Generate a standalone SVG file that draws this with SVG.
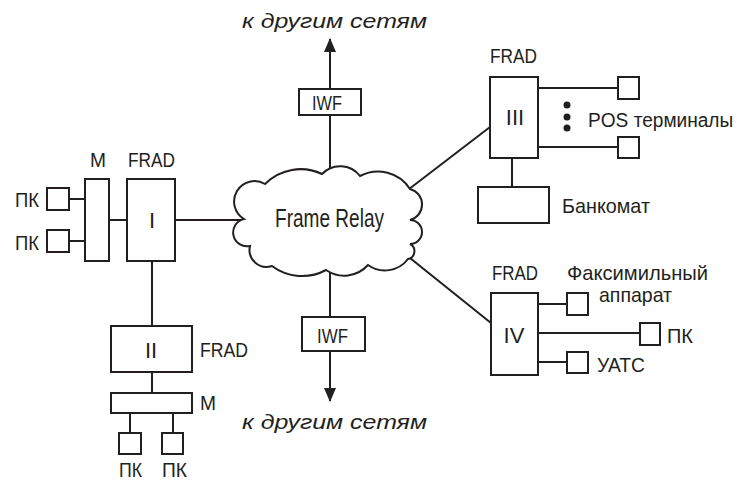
<svg xmlns="http://www.w3.org/2000/svg" width="737" height="481" viewBox="0 0 737 481">
  <defs>
    <style>
      .ln { stroke: #231f20; stroke-width: 2; fill: none; }
      .bx { stroke: #231f20; stroke-width: 2; fill: #ffffff; }
      .t { font-family: "Liberation Sans", Arial, sans-serif; font-size: 21px; fill: #231f20; }
      .num { font-family: "Liberation Sans", Arial, sans-serif; font-size: 22px; fill: #231f20; text-anchor: middle; }
      .it { font-family: "Liberation Sans", Arial, sans-serif; font-size: 21px; font-style: italic; fill: #231f20; }
      .big { font-family: "Liberation Sans", Arial, sans-serif; font-size: 25px; fill: #231f20; }
    </style>
    <marker id="arrow" viewBox="0 0 14 12" refX="13" refY="6" markerWidth="14" markerHeight="12" markerUnits="userSpaceOnUse" orient="auto">
      <path d="M0,0 L14,6 L0,12 Z" fill="#231f20"/>
    </marker>
  </defs>
  <rect width="737" height="481" fill="#ffffff"/>

  <!-- connectors -->
  <g id="connectors">
    <!-- up/down exits through IWF -->
    <line class="ln" x1="330" y1="89" x2="330" y2="39" marker-end="url(#arrow)"/>
    <line class="ln" x1="330" y1="180" x2="330" y2="115"/>
    <line class="ln" x1="330" y1="265" x2="330" y2="317"/>
    <line class="ln" x1="330" y1="351" x2="330" y2="401" marker-end="url(#arrow)"/>
    <!-- cloud to FRAD I / III / IV -->
    <line class="ln" x1="175" y1="220" x2="255" y2="220"/>
    <line class="ln" x1="400" y1="196" x2="490" y2="127"/>
    <line class="ln" x1="400" y1="250" x2="491" y2="323"/>
    <!-- left cluster -->
    <line class="ln" x1="69" y1="199" x2="85" y2="199"/>
    <line class="ln" x1="69" y1="241" x2="85" y2="241"/>
    <line class="ln" x1="109" y1="220" x2="127" y2="220"/>
    <line class="ln" x1="152" y1="261" x2="152" y2="326"/>
    <line class="ln" x1="152" y1="372" x2="152" y2="393"/>
    <line class="ln" x1="130" y1="413" x2="130" y2="433"/>
    <line class="ln" x1="173" y1="413" x2="173" y2="433"/>
    <!-- FRAD III -->
    <line class="ln" x1="538" y1="88" x2="618" y2="88"/>
    <line class="ln" x1="538" y1="147" x2="618" y2="147"/>
    <line class="ln" x1="512" y1="158" x2="512" y2="187"/>
    <!-- FRAD IV -->
    <line class="ln" x1="538" y1="304" x2="567" y2="304"/>
    <line class="ln" x1="538" y1="333" x2="640" y2="333"/>
    <line class="ln" x1="538" y1="362" x2="567" y2="362"/>
  </g>

  <!-- Frame Relay cloud -->
  <g id="cloud">
    <path class="bx" d="M244,219 A20,20 0 0 1 265,184 A50,50 0 0 1 322,174 A25,25 0 0 1 360,176 A38,38 0 0 1 410,189 A16,16 0 0 1 410,220 A12,12 0 0 1 410,244 A8,8 0 0 1 408,259 A29,29 0 0 1 368,265 A32,32 0 0 1 326,270 A50,50 0 0 1 272,266 A17,17 0 0 1 250,246 A13,13 0 0 1 244,219 Z"/>
    <text class="big" x="275" y="227" textLength="109" lengthAdjust="spacingAndGlyphs">Frame Relay</text>
  </g>

  <g id="net-top">
    <text class="it" x="242" y="28" textLength="185" lengthAdjust="spacingAndGlyphs">к другим сетям</text>
  </g>
  <g id="iwf-top">
    <rect class="bx" x="299" y="89" width="62" height="26"/>
    <text class="t" x="312" y="110" textLength="30" lengthAdjust="spacingAndGlyphs">IWF</text>
  </g>
  <g id="iwf-bottom">
    <rect class="bx" x="302" y="317" width="63" height="34"/>
    <text class="t" x="317" y="343" textLength="31" lengthAdjust="spacingAndGlyphs">IWF</text>
  </g>
  <g id="net-bottom">
    <text class="it" x="242" y="429" textLength="185" lengthAdjust="spacingAndGlyphs">к другим сетям</text>
  </g>

  <!-- left: PCs, modem, FRAD I -->
  <g id="pc-l1">
    <rect class="bx" x="47" y="188" width="22" height="22"/>
    <text class="t" x="15" y="207" textLength="24" lengthAdjust="spacingAndGlyphs">ПК</text>
  </g>
  <g id="pc-l2">
    <rect class="bx" x="47" y="230" width="22" height="22"/>
    <text class="t" x="15" y="250" textLength="24" lengthAdjust="spacingAndGlyphs">ПК</text>
  </g>
  <g id="modem-1">
    <rect class="bx" x="85" y="179" width="24" height="82"/>
    <text class="t" x="90" y="167" textLength="16" lengthAdjust="spacingAndGlyphs">M</text>
  </g>
  <g id="frad-1">
    <rect class="bx" x="127" y="179" width="48" height="82"/>
    <text class="t" x="128" y="167" textLength="47" lengthAdjust="spacingAndGlyphs">FRAD</text>
    <text class="num" x="152" y="228">I</text>
  </g>

  <!-- FRAD II with modem and PCs -->
  <g id="frad-2">
    <rect class="bx" x="111" y="326" width="81" height="46"/>
    <text class="num" x="151" y="358">II</text>
    <text class="t" x="200" y="357" textLength="48" lengthAdjust="spacingAndGlyphs">FRAD</text>
  </g>
  <g id="modem-2">
    <rect class="bx" x="111" y="393" width="81" height="20"/>
    <text class="t" x="200" y="410" textLength="16" lengthAdjust="spacingAndGlyphs">M</text>
  </g>
  <g id="pc-b1">
    <rect class="bx" x="119" y="433" width="22" height="21"/>
    <text class="t" x="119" y="477" textLength="23" lengthAdjust="spacingAndGlyphs">ПК</text>
  </g>
  <g id="pc-b2">
    <rect class="bx" x="162" y="433" width="21" height="21"/>
    <text class="t" x="162" y="477" textLength="25" lengthAdjust="spacingAndGlyphs">ПК</text>
  </g>

  <!-- FRAD III: POS terminals and ATM -->
  <g id="frad-3">
    <rect class="bx" x="490" y="77" width="48" height="81"/>
    <text class="t" x="490" y="63" textLength="47" lengthAdjust="spacingAndGlyphs">FRAD</text>
    <text class="num" x="515" y="125">III</text>
  </g>
  <g id="pos">
    <rect class="bx" x="618" y="77" width="21" height="22"/>
    <rect class="bx" x="618" y="137" width="21" height="21"/>
    <circle cx="567" cy="105" r="3.5" fill="#231f20"/>
    <circle cx="567" cy="117" r="3.5" fill="#231f20"/>
    <circle cx="567" cy="128" r="3.5" fill="#231f20"/>
    <text class="t" transform="translate(588,127) scale(0.91,1)" x="0" y="0">POS терминалы</text>
  </g>
  <g id="atm">
    <rect class="bx" x="478" y="187" width="71" height="36"/>
    <text class="t" x="562" y="213" textLength="88" lengthAdjust="spacingAndGlyphs">Банкомат</text>
  </g>

  <!-- FRAD IV: fax, PC, PBX -->
  <g id="frad-4">
    <rect class="bx" x="491" y="293" width="47" height="82"/>
    <text class="t" x="492" y="280" textLength="46" lengthAdjust="spacingAndGlyphs">FRAD</text>
    <text class="num" x="514" y="343">IV</text>
  </g>
  <g id="fax">
    <rect class="bx" x="567" y="293" width="21" height="22"/>
    <text class="t" x="567" y="280" textLength="141" lengthAdjust="spacingAndGlyphs">Факсимильный</text>
    <text class="t" x="599" y="302" textLength="73" lengthAdjust="spacingAndGlyphs">аппарат</text>
  </g>
  <g id="pc-r">
    <rect class="bx" x="640" y="323" width="20" height="22"/>
    <text class="t" x="667" y="343" textLength="26" lengthAdjust="spacingAndGlyphs">ПК</text>
  </g>
  <g id="pbx">
    <rect class="bx" x="567" y="352" width="21" height="21"/>
    <text class="t" x="597" y="372" textLength="48" lengthAdjust="spacingAndGlyphs">УАТС</text>
  </g>
</svg>
